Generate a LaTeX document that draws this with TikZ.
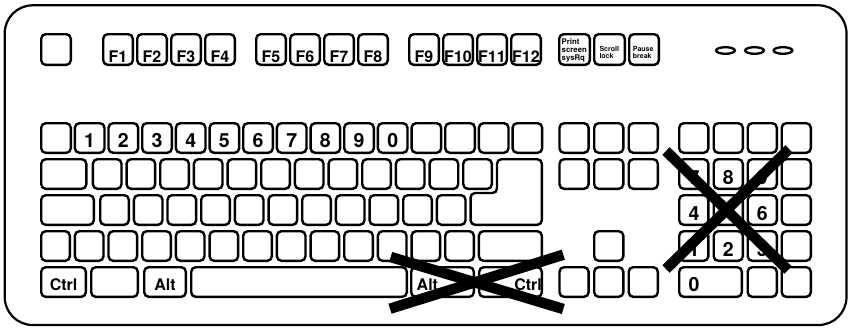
\documentclass[tikz,border=0pt]{standalone}
\usepackage{fontspec}
\setmainfont{TeX Gyre Heros}
\usetikzlibrary{shapes.geometric}
\tikzset{
  keybox/.style={draw=black, line width=2.4pt, rounded corners=4.5pt, fill=white, inner sep=0pt, outer sep=0pt},
  keyline/.style={draw=black, line width=2.4pt, rounded corners=4.5pt, fill=white},
  bigtxt/.style={font=\bfseries\fontsize{16}{16}\selectfont, inner sep=0pt, anchor=base},
  digtxt/.style={font=\bfseries\fontsize{19.5}{20}\selectfont, inner sep=0pt, anchor=base},
  smalltxt/.style={font=\bfseries\fontsize{7}{7}\selectfont, inner sep=0pt, anchor=base west},
  prtxt/.style={font=\bfseries\fontsize{7.8}{8}\selectfont, inner sep=0pt, anchor=base west},
  led/.style={draw=black, line width=2.3pt, ellipse, minimum width=18.8pt, minimum height=6.6pt, inner sep=0pt},
  xline/.style={draw=black, line width=10.5pt},
  frame/.style={draw=black, line width=2.2pt, rounded corners=28pt},
}
\newcommand{\kbx}[5]{\node[keybox, minimum width={#4pt-#2pt-2.4pt}, minimum height={#5pt-#3pt-2.4pt}] (#1) at ({(#2+#4)/2},{(#3+#5)/2}) {};}
\begin{document}
\begin{tikzpicture}[x=1pt,y=-1pt]
\useasboundingbox (0,0) rectangle (851,327);
\draw[frame] (4.7,5.3) rectangle (846.5,325);

% function row
\kbx{esc}{40}{33}{72}{66}
\foreach \i/\xa in {1/102,2/136,3/170,4/204,5/255,6/289,7/323,8/357,9/408,10/442,11/476,12/510}{
  \pgfmathsetmacro\xb{\xa+32}
  \kbx{f\i}{\xa}{33}{\xb}{66}
  \node[bigtxt] (f\i-t) at ({\xa+16},62) {F\i};
}
\kbx{prt}{558}{33}{591}{66}
\kbx{scr}{593}{33}{626}{66}
\kbx{pau}{628}{33}{660}{66}
\node[prtxt] (prt-a) at (561.5,44) {Print};
\node[prtxt] (prt-b) at (561.5,52.4) {screen};
\node[prtxt] (prt-c) at (561.5,60.7) {sysRq};
\node[smalltxt] (scr-a) at (599.3,51.7) {Scroll};
\node[smalltxt] (scr-b) at (599.3,58.3) {lock};
\node[smalltxt] (pau-a) at (632.7,51.7) {Pause};
\node[smalltxt] (pau-b) at (632.7,58.3) {break};

% LEDs
\node[led] (led1) at (725.5,50.5) {};
\node[led] (led2) at (754.5,50.5) {};
\node[led] (led3) at (783,50.5) {};

% row 1
\foreach \i in {0,...,14}{
  \pgfmathsetmacro\xa{40+33.67*\i}
  \pgfmathsetmacro\xb{\xa+32}
  \kbx{ra\i}{\xa}{122}{\xb}{154}
}
\foreach \i/\d in {1/1,2/2,3/3,4/4,5/5,6/6,7/7,8/8,9/9,10/0}{
  \node[digtxt] (ra\i-t) at ({40+33.67*\i+16},147.5) {\d};
}

% row 2
\kbx{tab}{40}{158}{87.5}{190}
\foreach \i in {0,...,11}{
  \pgfmathsetmacro\xa{91.7+33.67*\i}
  \pgfmathsetmacro\xb{\xa+31}
  \kbx{rb\i}{\xa}{158}{\xb}{190}
}
\draw[keyline] (497,159.2) -- (541.8,159.2) -- (541.8,224.8) -- (470.6,224.8) -- (470.6,193) -- (497,193) -- cycle;

% row 3
\kbx{caps}{40}{194}{95}{226}
\foreach \i in {0,...,10}{
  \pgfmathsetmacro\xa{99+33.67*\i}
  \pgfmathsetmacro\xb{\xa+31}
  \kbx{rc\i}{\xa}{194}{\xb}{226}
}

% row 4
\foreach \i in {0,...,12}{
  \pgfmathsetmacro\xa{40+33.67*\i}
  \pgfmathsetmacro\xb{\xa+31}
  \kbx{rd\i}{\xa}{230}{\xb}{262}
}
\kbx{rshift}{477.7}{230}{543}{262}

% row 5
\kbx{lctrl}{40}{266}{87}{298}
\kbx{lwin}{90}{266}{139}{298}
\kbx{lalt}{143}{266}{187}{298}
\kbx{space}{190}{266}{408}{298}
\kbx{ralt}{410}{266}{475}{298}
\kbx{rctrl}{478}{266}{543}{298}
\node[bigtxt] (lctrl-t) at (63.5,290) {Ctrl};
\node[bigtxt] (lalt-t) at (165,290) {Alt};
\node[bigtxt, anchor=base west] (ralt-t) at (416.5,290) {Alt};
\node[bigtxt, anchor=base east] (rctrl-t) at (542,290) {Ctrl};

% navigation cluster
\foreach \c/\xa in {1/558.3,2/593,3/627.5}{
  \pgfmathsetmacro\xb{\xa+31.5}
  \kbx{na\c}{\xa}{122}{\xb}{154}
  \kbx{nb\c}{\xa}{158}{\xb}{190}
  \kbx{nd\c}{\xa}{266}{\xb}{298}
}
\kbx{up}{593}{230}{624.5}{262}

% numeric pad
\foreach \c/\xa in {1/678,2/712.5,3/746.5,4/780.5}{
  \pgfmathsetmacro\xb{\xa+31.5}
  \kbx{pa\c}{\xa}{122}{\xb}{154}
  \kbx{pb\c}{\xa}{158}{\xb}{190}
  \kbx{pc\c}{\xa}{194}{\xb}{226}
  \kbx{pd\c}{\xa}{230}{\xb}{262}
}
\kbx{pzero}{678}{266}{743}{298}
\kbx{pdot}{746.5}{266}{778}{298}
\kbx{pent}{780.5}{266}{812}{298}
\node[digtxt] (p7) at (694,184) {7};
\node[digtxt] (p8) at (728.2,184) {8};
\node[digtxt] (p9) at (762.2,184) {9};
\node[digtxt] (p4) at (694,220) {4};
\node[digtxt] (p6) at (762.2,220) {6};
\node[digtxt] (p1) at (694,256) {1};
\node[digtxt] (p2) at (728.2,256) {2};
\node[digtxt] (p3) at (762.2,256) {3};
\node[digtxt] (p0) at (694,291) {0};

% crosses
\coordinate (xa1) at (390.7,257);
\coordinate (xa2) at (563.3,309);
\coordinate (xb1) at (390,308.7);
\coordinate (xb2) at (563.3,254.7);
\draw[xline] (xa1) -- (xa2);
\draw[xline] (xb1) -- (xb2);
\coordinate (xc1) at (666,151);
\coordinate (xc2) at (788,270);
\coordinate (xd1) at (666,269);
\coordinate (xd2) at (789,149);
\draw[xline] (xc1) -- (xc2);
\draw[xline] (xd1) -- (xd2);
\end{tikzpicture}
\end{document}
